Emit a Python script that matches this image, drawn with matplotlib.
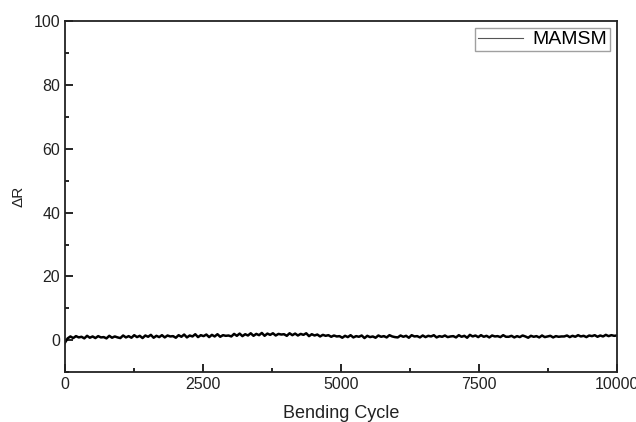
import matplotlib.pyplot as plt
import numpy as np
from matplotlib.ticker import MultipleLocator

plt.rcParams['font.family'] = ['Liberation Sans', 'DejaVu Sans']

# resistance change, evenly spaced over 0..10000 cycles
dR = [
    -0.8, 0.6, 1.2, 0.7, 1.3, 0.9, 1.1, 0.6, 1.4, 0.8, 1.2, 0.7, 1.3, 0.9, 1.0, 0.6, 1.4, 0.8, 1.2, 0.9,
    0.7, 1.5, 0.9, 1.3, 0.8, 1.6, 1.0, 1.4, 0.7, 1.5, 1.1, 1.7, 0.8, 1.4, 1.0, 1.6, 0.9, 1.5, 1.2, 1.3,
    0.8, 1.6, 1.1, 1.8, 0.9, 1.5, 1.2, 1.9, 1.0, 1.6, 1.3, 1.8, 1.0, 1.7, 1.2, 1.9, 1.1, 1.6, 1.4, 1.5,
    1.2, 2.0, 1.4, 2.1, 1.3, 1.9, 1.5, 2.2, 1.4, 2.0, 1.6, 2.3, 1.4, 2.1, 1.7, 2.2, 1.5, 2.0, 1.8, 1.9,
    1.4, 2.2, 1.6, 2.1, 1.5, 2.0, 1.7, 2.2, 1.3, 1.9, 1.5, 1.8, 1.2, 1.7, 1.4, 1.6, 1.1, 1.5, 1.2, 1.3,
    0.8, 1.4, 1.0, 1.6, 0.9, 1.3, 1.1, 1.5, 0.7, 1.4, 1.0, 1.2, 0.8, 1.5, 1.1, 1.3, 0.9, 1.6, 1.2, 1.0,
    0.9, 1.5, 1.1, 1.4, 0.8, 1.6, 1.2, 1.3, 0.9, 1.5, 1.0, 1.4, 1.2, 1.6, 0.9, 1.3, 1.1, 1.5, 1.0, 1.2,
    1.3, 0.9, 1.6, 1.1, 1.4, 0.8, 1.7, 1.2, 1.5, 1.0, 1.6, 1.1, 1.4, 0.9, 1.5, 1.2, 1.3, 1.0, 1.6, 1.1,
    1.1, 1.4, 0.9, 1.3, 1.0, 1.5, 1.2, 0.8, 1.4, 1.1, 1.3, 0.9, 1.5, 1.0, 1.2, 1.4, 0.9, 1.3, 1.1, 1.2,
    1.2, 1.5, 1.0, 1.4, 1.1, 1.6, 1.2, 1.4, 1.0, 1.5, 1.3, 1.6, 1.1, 1.5, 1.2, 1.7, 1.3, 1.6, 1.4, 1.5,
]
cycles = np.linspace(0, 10000, len(dR))

fig = plt.figure(figsize=(6.36, 4.22), dpi=100)
ax = fig.add_axes([0.102, 0.118, 0.868, 0.832])
ax.plot(cycles, dR, color='black', lw=1.8, label='MAMSM')

ax.set_xlim(0, 10000)
ax.set_ylim(-10, 100)
ax.xaxis.set_major_locator(MultipleLocator(2500))
ax.xaxis.set_minor_locator(MultipleLocator(1250))
ax.yaxis.set_major_locator(MultipleLocator(20))
ax.yaxis.set_minor_locator(MultipleLocator(10))
ax.tick_params(which='both', direction='in', top=False, right=False,
               labelsize=11.5, labelcolor='#222222', width=1.2)
ax.tick_params(which='major', length=6)
ax.tick_params(which='minor', length=3)
for s in ax.spines.values():
    s.set_linewidth(1.3)
    s.set_color('#222222')

ax.set_xlabel('Bending Cycle', fontsize=13, color='#222222', labelpad=9)
ax.set_ylabel('\u0394R', fontsize=11, color='#222222', labelpad=6)

leg = ax.legend(loc='upper right', fontsize=14, fancybox=False, borderpad=0.15,
                handlelength=2.3, handletextpad=0.5, borderaxespad=0.35)
leg.get_frame().set_edgecolor('#888888')
leg.get_frame().set_linewidth(1.0)
leg.get_lines()[0].set_linewidth(0.8)
leg.get_lines()[0].set_color('#555555')

fig.savefig('out.png', dpi=100)
